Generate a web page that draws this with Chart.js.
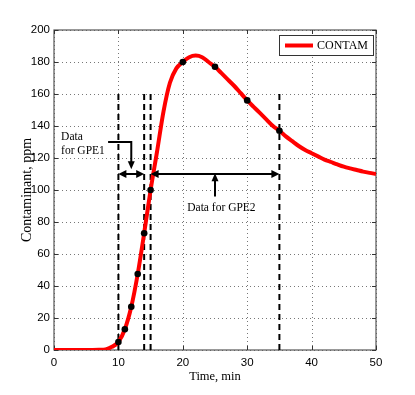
<!DOCTYPE html>
<html><head><meta charset="utf-8">
<script src="https://cdn.jsdelivr.net/npm/chart.js@4.4.1/dist/chart.umd.min.js"></script>
<style>html,body{margin:0;padding:0;background:#fff;}#wrap{width:415px;height:395px;}</style>
</head><body><div id="wrap"><canvas id="c" width="415" height="395"></canvas></div>
<script>
// ---- data ----
const timeMin = [0,1,2,3,4,5,6,7,8,9,10,11,12,13,14,15,16,17,18,19,20,21,22,23,24,25,26,27,28,29,30,31,32,33,34,35,36,37,38,39,40,41,42,43,44,45,46,47,48,49,50];
const contam = [0,0,0,0,0,0,0,0.1,0.4,2,5,13,27,47.5,73,100,124,149,167,176,180,183,184,183,180,177,173,169,165,160.5,156,152,148,144,140,137,133.5,130.5,127.5,125,123,121,119,117.5,116,114.6,113.5,112.5,111.5,110.7,110];
const sampleTime = [10,11,12,13,14,15,20,25,30,35];
const sampleValue = [5,13,27,47.5,73,100,180,177,156,137];
const dashTimes = [10,14,15,35];
const dashTop = 160;
const gpe1Range = [10,14];
const gpe2Range = [15,35];
const arrowLevel = 110;
const gpe1Leader = [[8.4,130],[12,130],[12,113]];
const gpe1Text = [["Data",1.1,131],["for GPE1",1.1,122.5]];
const gpe2Pointer = [[25,96],[25,110.5]];
const gpe2Text = ["Data for GPE2",26,89];
const xTicks = [0,10,20,30,40,50];
const yTicks = [0,20,40,60,80,100,120,140,160,180,200];
const seriesName = "CONTAM";

const SERIF = "'Liberation Serif','Times New Roman',serif";
const SANS = "'Liberation Sans',Arial,sans-serif";

function arrowHead(ctx, x1, y1, x2, y2, len, half) {
  const a = Math.atan2(y2 - y1, x2 - x1);
  ctx.beginPath();
  ctx.moveTo(x2, y2);
  ctx.lineTo(x2 - len*Math.cos(a) + half*Math.sin(a), y2 - len*Math.sin(a) - half*Math.cos(a));
  ctx.lineTo(x2 - len*Math.cos(a) - half*Math.sin(a), y2 - len*Math.sin(a) + half*Math.cos(a));
  ctx.closePath();
  ctx.fill();
}

const annot = {
  id: 'annot',
  beforeDatasetsDraw(chart) {
    const {ctx, chartArea: ca, scales: {x, y}} = chart;
    ctx.save();
    // dotted grid
    ctx.strokeStyle = '#777';
    ctx.lineWidth = 1;
    ctx.setLineDash([1, 3]);
    ctx.beginPath();
    x.ticks.forEach(t => {
      const px = Math.round(x.getPixelForValue(t.value)) + 0.5;
      ctx.moveTo(px, ca.bottom); ctx.lineTo(px, ca.top);
    });
    y.ticks.forEach(t => {
      const py = Math.round(y.getPixelForValue(t.value)) + 0.5;
      ctx.moveTo(ca.left, py); ctx.lineTo(ca.right, py);
    });
    ctx.stroke();
    ctx.setLineDash([]);
    // frame
    ctx.strokeStyle = '#555';
    ctx.lineWidth = 1.2;
    ctx.strokeRect(ca.left, ca.top, ca.right - ca.left, ca.bottom - ca.top);
    // inward ticks
    ctx.lineWidth = 1;
    ctx.strokeStyle = '#333';
    ctx.beginPath();
    x.ticks.forEach(t => {
      const px = Math.round(x.getPixelForValue(t.value)) + 0.5;
      ctx.moveTo(px, ca.bottom); ctx.lineTo(px, ca.bottom - 4);
      ctx.moveTo(px, ca.top); ctx.lineTo(px, ca.top + 4);
    });
    y.ticks.forEach(t => {
      const py = Math.round(y.getPixelForValue(t.value)) + 0.5;
      ctx.moveTo(ca.left, py); ctx.lineTo(ca.left + 4, py);
      ctx.moveTo(ca.right, py); ctx.lineTo(ca.right - 4, py);
    });
    ctx.stroke();
    ctx.restore();
  },
  afterDatasetsDraw(chart) {
    const {ctx, chartArea: ca, scales: {x, y}} = chart;
    ctx.save();
    ctx.strokeStyle = '#000';
    ctx.fillStyle = '#000';
    ctx.lineWidth = 2;
    const ay = y.getPixelForValue(arrowLevel);
    [gpe1Range, gpe2Range].forEach(r => {
      const xa = x.getPixelForValue(r[0]), xb = x.getPixelForValue(r[1]);
      ctx.beginPath(); ctx.moveTo(xa + 6, ay); ctx.lineTo(xb - 6, ay); ctx.stroke();
      arrowHead(ctx, xb, ay, xa, ay, 8, 4);
      arrowHead(ctx, xa, ay, xb, ay, 8, 4);
    });
    // leader GPE1
    ctx.beginPath();
    gpe1Leader.forEach((p, i) => {
      const px = x.getPixelForValue(p[0]), py = y.getPixelForValue(p[1]);
      if (i === 0) ctx.moveTo(px, py); else if (i === gpe1Leader.length - 1) ctx.lineTo(px, py - 6); else ctx.lineTo(px, py);
    });
    ctx.stroke();
    const l1 = gpe1Leader[gpe1Leader.length-2], l2 = gpe1Leader[gpe1Leader.length-1];
    arrowHead(ctx, x.getPixelForValue(l1[0]), y.getPixelForValue(l1[1]), x.getPixelForValue(l2[0]), y.getPixelForValue(l2[1]), 8, 3.5);
    // pointer GPE2
    const p0 = gpe2Pointer[0], p1 = gpe2Pointer[1];
    const q0x = x.getPixelForValue(p0[0]), q0y = y.getPixelForValue(p0[1]);
    const q1x = x.getPixelForValue(p1[0]), q1y = y.getPixelForValue(p1[1]);
    ctx.beginPath(); ctx.moveTo(q0x, q0y); ctx.lineTo(q1x, q1y + 6); ctx.stroke();
    arrowHead(ctx, q0x, q0y, q1x, q1y, 8, 3.5);
    // texts
    ctx.font = "11.5px " + SERIF;
    ctx.textBaseline = 'alphabetic';
    ctx.textAlign = 'left';
    gpe1Text.forEach(t => ctx.fillText(t[0], x.getPixelForValue(t[1]), y.getPixelForValue(t[2])));
    ctx.textAlign = 'center';
    ctx.textBaseline = 'middle';
    ctx.fillText(gpe2Text[0], x.getPixelForValue(gpe2Text[1]), y.getPixelForValue(gpe2Text[2]));
    // legend
    const bw = 94, bh = 20;
    const bx = ca.right - 3 - bw, by = ca.top + 5;
    ctx.fillStyle = '#fff';
    ctx.fillRect(bx, by, bw, bh);
    ctx.strokeStyle = '#333';
    ctx.lineWidth = 1;
    ctx.strokeRect(bx + 0.5, by + 0.5, bw, bh);
    ctx.strokeStyle = '#ff0000';
    ctx.lineWidth = 4;
    ctx.beginPath(); ctx.moveTo(bx + 6, by + bh/2 + 0.5); ctx.lineTo(bx + 34, by + bh/2 + 0.5); ctx.stroke();
    ctx.fillStyle = '#000';
    ctx.font = "12px " + SERIF;
    ctx.textAlign = 'left';
    ctx.textBaseline = 'middle';
    ctx.fillText(seriesName, bx + 38, by + bh/2 + 1);
    ctx.restore();
  }
};

const datasets = [
  {
    label: seriesName,
    data: timeMin.map((t, i) => ({x: t, y: contam[i]})),
    borderColor: '#ff0000', borderWidth: 4, pointRadius: 0,
    cubicInterpolationMode: 'monotone', fill: false, order: 1
  },
  {
    label: 'samples',
    data: sampleTime.map((t, i) => ({x: t, y: sampleValue[i]})),
    showLine: false, pointRadius: 3.3, pointBackgroundColor: '#000', pointBorderColor: '#000',
    pointBorderWidth: 0, order: 0
  }
];
dashTimes.forEach(t => datasets.push({
  label: 'dash' + t,
  data: [{x: t, y: 0}, {x: t, y: dashTop}],
  borderColor: '#000', borderWidth: 2, borderDash: [6, 4], pointRadius: 0, order: 2
}));

new Chart(document.getElementById('c'), {
  type: 'line',
  data: {datasets},
  plugins: [annot],
  options: {
    responsive: false, animation: false,
    layout: {padding: {top: 30, right: 39, left: 0, bottom: 0}},
    plugins: {legend: {display: false}, tooltip: {enabled: false}},
    scales: {
      x: {
        type: 'linear', min: 0, max: 50,
        afterBuildTicks: s => { s.ticks = xTicks.map(v => ({value: v})); },
        afterFit: s => { s.height = 45; },
        grid: {display: false, drawTicks: false},
        border: {display: false},
        ticks: {padding: 6, color: '#000', font: {family: SANS, size: 11.5}, maxRotation: 0},
        title: {display: true, text: 'Time, min', color: '#000', font: {family: SERIF, size: 12.5}, padding: {top: 0, bottom: 11}}
      },
      y: {
        type: 'linear', min: 0, max: 200,
        afterBuildTicks: s => { s.ticks = yTicks.map(v => ({value: v})); },
        afterFit: s => { s.width = 54; },
        grid: {display: false, drawTicks: false},
        border: {display: false},
        ticks: {padding: 4, color: '#000', font: {family: SANS, size: 11.5}},
        title: {display: true, text: 'Contaminant, ppm', color: '#000', font: {family: SERIF, size: 14}, padding: {top: 19, bottom: 0}}
      }
    }
  }
});
</script>
</body></html>
